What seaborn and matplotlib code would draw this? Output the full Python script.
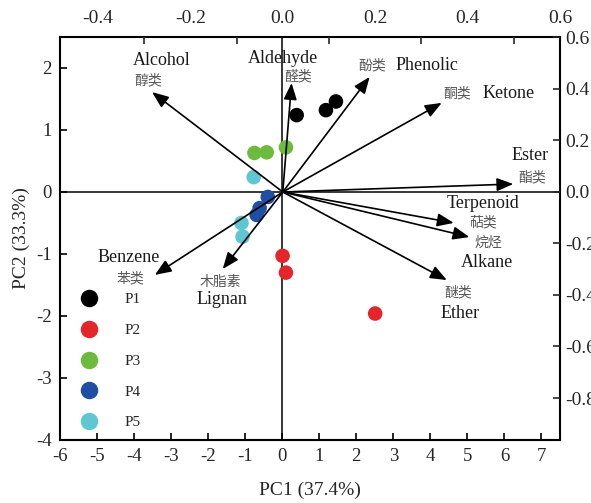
import matplotlib
matplotlib.use("Agg")
import matplotlib.pyplot as plt
import seaborn as sns
import pandas as pd
import numpy as np

# ---- data ----
groups = ["P1", "P2", "P3", "P4", "P5"]
p1_x = [0.39, 1.18, 1.45]
p1_y = [1.24, 1.32, 1.46]
p2_x = [0.01, 0.10, 2.51]
p2_y = [-1.03, -1.30, -1.96]
p3_x = [-0.75, -0.42, 0.10]
p3_y = [0.63, 0.64, 0.72]
p4_x = [-0.39, -0.61, -0.69]
p4_y = [-0.08, -0.26, -0.37]
p5_x = [-0.77, -1.10, -1.07]
p5_y = [0.24, -0.50, -0.72]

variables_en = ["Alcohol", "Aldehyde", "Phenolic", "Ketone", "Ester",
                "Terpenoid", "Alkane", "Ether", "Benzene", "Lignan"]
variables_cn = ["醇类", "醛类", "酚类", "酮类", "酯类",
                "萜类", "烷烃", "醚类", "苯类", "木脂素"]
load_x = [-0.283, 0.019, 0.188, 0.344, 0.499, 0.370, 0.404, 0.355, -0.277, -0.130]
load_y = [0.388, 0.423, 0.447, 0.346, 0.031, -0.120, -0.175, -0.342, -0.322, -0.299]

x_ticks = [-6, -5, -4, -3, -2, -1, 0, 1, 2, 3, 4, 5, 6, 7]
y_ticks = [-4, -3, -2, -1, 0, 1, 2]
top_ticks = [-0.4, -0.2, 0.0, 0.2, 0.4, 0.6]
top_minor = [-0.3, -0.1, 0.1, 0.3, 0.5]
right_ticks = [-0.8, -0.6, -0.4, -0.2, 0.0, 0.2, 0.4, 0.6]

# ---- label placement (loading coordinates) ----
en_pos = [(-0.261, 0.509), (0.001, 0.520), (0.312, 0.493), (0.488, 0.381),
          (0.535, 0.140), (0.434, -0.043), (0.442, -0.272), (0.384, -0.470),
          (-0.334, -0.256), (-0.131, -0.419)]
cn_pos = [(-0.291, 0.435), (0.034, 0.447), (0.194, 0.493), (0.377, 0.381),
          (0.539, 0.058), (0.434, -0.117), (0.444, -0.198), (0.379, -0.392),
          (-0.330, -0.334), (-0.135, -0.350)]

colors = ["#000000", "#e3262b", "#6dbb3c", "#1f4ea3", "#5ec7d2"]

rows = []
for g, xs, ys in zip(groups, [p1_x, p2_x, p3_x, p4_x, p5_x],
                     [p1_y, p2_y, p3_y, p4_y, p5_y]):
    for a, b in zip(xs, ys):
        rows.append({"PC1": a, "PC2": b, "group": g})
df = pd.DataFrame(rows)

sns.set_style("ticks")
plt.rcParams["font.family"] = ["Liberation Serif", "Noto Sans CJK SC"]
plt.rcParams["axes.unicode_minus"] = False

fig = plt.figure(figsize=(5.91, 5.03), dpi=100)
pos = [60 / 591, 1 - 440 / 503, 500 / 591, 403 / 503]
ax = fig.add_axes(pos)

sns.scatterplot(data=df, x="PC1", y="PC2", hue="group", hue_order=groups,
                palette=colors, s=110, edgecolor="none", ax=ax, zorder=3)

ax.set_xlim(-6, 7.5)
ax.set_ylim(-4, 2.5)
ax.set_xticks(x_ticks)
ax.set_yticks(y_ticks)
ax.axhline(0, color="black", lw=1.1, zorder=1)
ax.axvline(0, color="black", lw=1.1, zorder=1)
ax.tick_params(direction="in", length=5, width=1.2, labelsize=13.5, pad=6, color="black")
for sp in ax.spines.values():
    sp.set_linewidth(1.5)
    sp.set_color("black")
ax.set_xlabel("PC1 (37.4%)", fontsize=14, labelpad=12)
ax.set_ylabel("PC2 (33.3%)", fontsize=14, labelpad=4)

h, l = ax.get_legend_handles_labels()
ax.legend(h, l, loc="upper left", bbox_to_anchor=(0.0, 0.40), frameon=False,
          fontsize=11, labelspacing=1.12, handletextpad=1.3, markerscale=1.2,
          borderaxespad=0.5)

# loading axes (top / right)
axl = fig.add_axes(pos, frameon=False)
axl.patch.set_alpha(0)
axl.set_xlim(-0.4822, 0.5989)
axl.set_ylim(-0.9631, 0.6019)
axl.xaxis.tick_top()
axl.yaxis.tick_right()
axl.set_xticks(top_ticks)
axl.set_xticklabels([f"{v:.1f}" for v in top_ticks])
axl.set_xticks(top_minor, minor=True)
axl.tick_params(axis="x", which="major", length=0, labelsize=14, pad=7)
axl.tick_params(axis="x", which="minor", direction="in", length=5, width=1.2)
axl.set_yticks(right_ticks)
axl.set_yticklabels([f"{v:.1f}" for v in right_ticks])
axl.tick_params(axis="y", direction="in", length=5, width=1.2, labelsize=14, pad=4)

for lx, ly in zip(load_x, load_y):
    axl.annotate("", xy=(lx, ly), xytext=(0, 0),
                 arrowprops=dict(arrowstyle="-|>,head_length=0.5,head_width=0.2",
                                 color="black", lw=1.2,
                                 mutation_scale=20, shrinkA=0, shrinkB=0))

for name, (ex, ey) in zip(variables_en, en_pos):
    axl.text(ex, ey, name, fontsize=13, ha="center", va="center", color="#1a1a1a")
for name, (cx, cy) in zip(variables_cn, cn_pos):
    axl.text(cx, cy, name, fontsize=10, ha="center", va="center", color="#555555",
             family=["Noto Sans CJK SC", "DejaVu Sans"])

fig.savefig("out.png", dpi=100)
